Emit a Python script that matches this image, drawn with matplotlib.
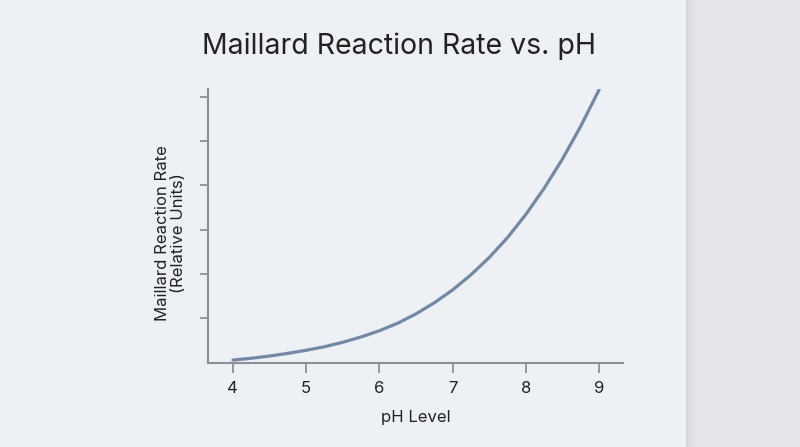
import numpy as np
import matplotlib.pyplot as plt
from matplotlib.patches import Rectangle

# 数据
ph = [4, 4.25, 4.5, 4.75, 5, 5.25, 5.5, 5.75, 6, 6.25, 6.5,
      6.75, 7, 7.25, 7.5, 7.75, 8, 8.25, 8.5, 8.75, 9]
rate = [0.06, 0.10, 0.15, 0.21, 0.28, 0.36, 0.46, 0.58, 0.72, 0.89, 1.10,
        1.35, 1.64, 1.98, 2.37, 2.82, 3.34, 3.93, 4.59, 5.33, 6.15]
x_ticks = [4, 5, 6, 7, 8, 9]
y_ticks = [1, 2, 3, 4, 5, 6]

plt.rcParams['font.family'] = ['Inter', 'DejaVu Sans']

fig = plt.figure(figsize=(8, 4.47), dpi=100)
fig.patch.set_facecolor('#e3e5e9')

# 纸张背景和右侧阴影（放在坐标轴下面）
for i, a in enumerate(np.linspace(0.10, 0.0, 12)):
    fig.patches.append(Rectangle((0.857 + i * 0.0012, 0), 0.0012, 1, transform=fig.transFigure,
                                 facecolor='#5a5f68', alpha=a, zorder=-3))
fig.patches.append(Rectangle((0, 0), 0.857, 1, transform=fig.transFigure,
                             facecolor='#edf0f4', zorder=-2))

ax = fig.add_axes([0.26, 0.1886, 0.519, 0.6123])
ax.set_facecolor('none')
ax.plot(ph, rate, color='#7189a4', linewidth=2.3, solid_capstyle='round',
        solid_joinstyle='round')

ax.set_xlim(3.66, 9.33)
ax.set_ylim(0, 6.17)
ax.set_xticks(x_ticks)
ax.set_yticks(y_ticks)
ax.set_yticklabels([])

for s in ['top', 'right']:
    ax.spines[s].set_visible(False)
for s in ['left', 'bottom']:
    ax.spines[s].set_color('#8c9198')
    ax.spines[s].set_linewidth(1.5)
ax.tick_params(axis='both', color='#8c9198', width=1.3, labelsize=12, labelcolor='#222222')
ax.tick_params(axis='x', length=7, pad=6)
ax.tick_params(axis='y', length=6)

ax.set_xlabel('pH Level', fontsize=12, color='#222222', labelpad=10)
fig.text(0.213, 0.478, 'Maillard Reaction Rate\n(Relative Units)', rotation=90,
         ha='center', va='center', fontsize=12, color='#222222', linespacing=1.1)
fig.text(0.499, 0.897, 'Maillard Reaction Rate vs. pH', ha='center', va='center',
         fontsize=20.5, color='#222222')

fig.savefig('out.png', dpi=100, facecolor=fig.get_facecolor())
